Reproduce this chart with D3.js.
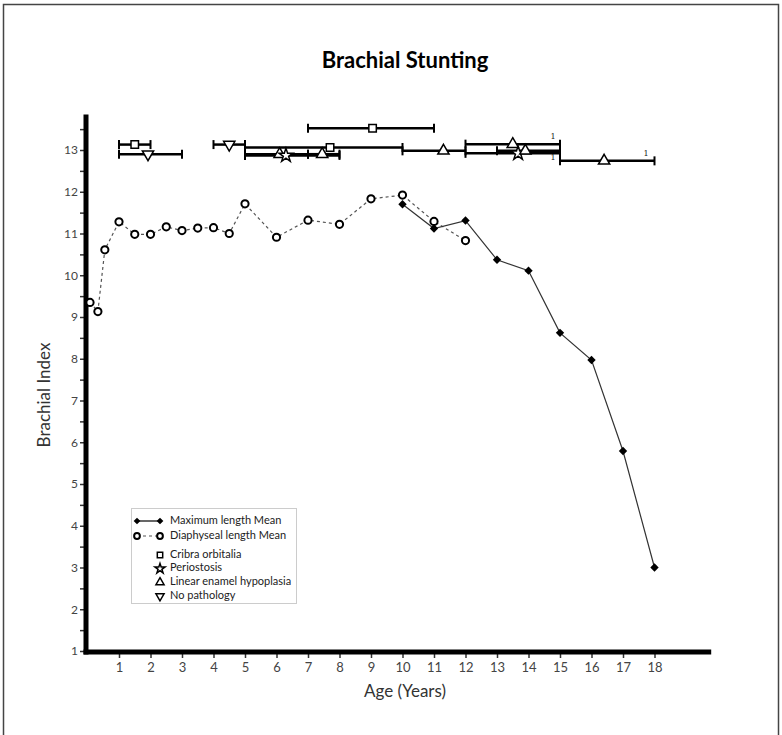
<!DOCTYPE html>
<html>
<head>
<meta charset="utf-8">
<script src="https://cdn.jsdelivr.net/npm/d3@7"></script>
<style>
body { margin: 0; background: #fff; }
svg { font-family: Lato, "Open Sans", sans-serif; }
</style>
</head>
<body>
<svg width="782" height="735"></svg>
<script>
// mean brachial index by age
let maxAge = [10, 11, 12, 13, 14, 15, 16, 17, 18];
let maxMean = [11.7, 11.12, 11.31, 10.37, 10.11, 8.62, 7.97, 5.79, 3.0];

let diaAge = [0.08, 0.33, 0.55, 1, 1.5, 2, 2.5, 3, 3.5, 4, 4.5, 5, 6, 7, 8, 9, 10, 11, 12];
let diaMean = [9.35, 9.13, 10.61, 11.28, 10.98, 10.98, 11.16, 11.07, 11.13, 11.14, 11.0, 11.71, 10.91, 11.32, 11.22, 11.83, 11.92, 11.29, 10.83];

// pathology groups: mean age, age range, brachial index
let pathType = ['cribra', 'cribra', 'cribra', 'none', 'none', 'leh', 'peri', 'leh', 'leh', 'peri', 'leh', 'leh', 'leh'];
let pathAge = [9.05, 1.5, 7.7, 1.92, 4.5, 6.1, 6.3, 7.45, 11.3, 13.67, 13.9, 13.5, 16.4];
let pathLow = [7, 1, 5, 1, 4, 5, 5, 7, 10, 12, 13, 12, 15];
let pathHigh = [11, 2, 10, 3, 5, 7, 8, 8, 12, 15, 15, 15, 18];
let pathIndex = [13.52, 13.13, 13.06, 12.9, 13.13, 12.9, 12.87, 12.9, 12.98, 12.92, 12.98, 13.14, 12.74];

// small "1" notes next to some bars
let noteAge = [14.78, 14.78, 17.73];
let noteIndex = [13.31, 12.81, 12.9];

let xTicks = d3.range(1, 19);
let yTicks = d3.range(1, 14);

let legendLabels = ['Maximum length Mean', 'Diaphyseal length Mean', 'Cribra orbitalia', 'Periostosis', 'Linear enamel hypoplasia', 'No pathology'];
let legendTypes = ['max', 'dia', 'cribra', 'peri', 'leh', 'none'];

let svg = d3.select('svg');

// frame
svg.append('rect')
    .attr('x', 3.5).attr('y', 4.5)
    .attr('width', 775).attr('height', 740)
    .attr('fill', 'none')
    .attr('stroke', '#444')
    .attr('stroke-width', 1.5);

let x = d3.scaleLinear().domain([0, 20]).range([87.5, 717.5]);
let y = d3.scaleLinear().domain([1, 13]).range([651, 150]);

svg.append('text')
    .attr('x', 405).attr('y', 68)
    .attr('text-anchor', 'middle')
    .style('font-size', '22px')
    .style('font-weight', 'bold')
    .text('Brachial Stunting');

// y axis
let yAxis = svg.append('g')
    .attr('transform', 'translate(86,0)')
    .call(d3.axisLeft(y).tickValues(yTicks).tickSize(6).tickPadding(2).tickFormat(d3.format('d')));
yAxis.select('.domain').remove();
yAxis.selectAll('line').attr('stroke', '#333').attr('stroke-width', 1.5);
yAxis.selectAll('text').style('font-size', '12px').style('font-family', 'Lato').attr('fill', '#444');

let yMinor = svg.append('g')
    .attr('transform', 'translate(86,0)')
    .call(d3.axisLeft(y).tickValues(d3.range(1.5, 14, 1)).tickSize(6).tickFormat(''));
yMinor.select('.domain').remove();
yMinor.selectAll('line').attr('stroke', '#333').attr('stroke-width', 1.5);

// x axis
let xAxis = svg.append('g')
    .attr('transform', 'translate(0,652)')
    .call(d3.axisBottom(x).tickValues(xTicks).tickSize(6).tickPadding(5));
xAxis.select('.domain').remove();
xAxis.selectAll('line').attr('stroke', '#333').attr('stroke-width', 1.5);
xAxis.selectAll('text').style('font-size', '13px').style('font-family', 'Lato').attr('fill', '#444');

// thick axis lines
svg.append('line')
    .attr('x1', 86).attr('x2', 86)
    .attr('y1', y(13.85)).attr('y2', 654.5)
    .attr('stroke', '#000').attr('stroke-width', 5);
svg.append('line')
    .attr('x1', 83.5).attr('x2', x(19.8))
    .attr('y1', 652).attr('y2', 652)
    .attr('stroke', '#000').attr('stroke-width', 5);

svg.append('text')
    .attr('transform', 'translate(50,395) rotate(-90)')
    .attr('text-anchor', 'middle')
    .style('font-size', '17px')
    .attr('fill', '#333')
    .text('Brachial  Index');

svg.append('text')
    .attr('x', 405).attr('y', 697)
    .attr('text-anchor', 'middle')
    .style('font-size', '17px')
    .attr('fill', '#333')
    .text('Age (Years)');

// markers
function diamond(s) {
    return 'M0,' + (-s) + 'L' + s + ',0L0,' + s + 'L' + (-s) + ',0Z';
}
let symbolPath = {
    cribra: d3.symbol(d3.symbolSquare, 56)(),
    peri: d3.symbol(d3.symbolStar, 60)(),
    leh: d3.symbol(d3.symbolTriangle, 55)(),
    none: d3.symbol(d3.symbolTriangle, 55)()
};
function drawSymbol(g, type, px, py, k) {
    k = k || 1;
    if (type === 'max') {
        g.append('path').attr('d', diamond(4.2 * k))
            .attr('transform', 'translate(' + px + ',' + py + ')')
            .attr('fill', '#000');
    } else if (type === 'dia') {
        g.append('circle').attr('cx', px).attr('cy', py).attr('r', 3.6 * k)
            .attr('fill', '#fff').attr('stroke', '#000').attr('stroke-width', 2);
    } else {
        let rot = type === 'none' ? ' rotate(180)' : '';
        g.append('path').attr('d', symbolPath[type])
            .attr('transform', 'translate(' + px + ',' + py + ') scale(' + k + ')' + rot)
            .attr('fill', '#fff').attr('stroke', '#000').attr('stroke-width', 1.5 / k);
    }
}

// diaphyseal line
let diaLine = d3.line().x((d, i) => x(diaAge[i])).y(d => y(d));
svg.append('path')
    .attr('d', diaLine(diaMean))
    .attr('fill', 'none')
    .attr('stroke', '#555')
    .attr('stroke-width', 1.2)
    .attr('stroke-dasharray', '3,3');

let maxLine = d3.line().x((d, i) => x(maxAge[i])).y(d => y(d));
svg.append('path')
    .attr('d', maxLine(maxMean))
    .attr('fill', 'none')
    .attr('stroke', '#333')
    .attr('stroke-width', 1.2);

let pts = svg.append('g');
diaMean.forEach((d, i) => drawSymbol(pts, 'dia', x(diaAge[i]), y(d)));
maxMean.forEach((d, i) => drawSymbol(pts, 'max', x(maxAge[i]), y(d)));

// age range bars
let bars = svg.append('g');
pathType.forEach(function(t, i) {
    let py = y(pathIndex[i]);
    bars.append('line')
        .attr('x1', x(pathLow[i])).attr('x2', x(pathHigh[i]))
        .attr('y1', py).attr('y2', py)
        .attr('stroke', '#000').attr('stroke-width', 2.5);
    [pathLow[i], pathHigh[i]].forEach(function(a) {
        bars.append('line')
            .attr('x1', x(a)).attr('x2', x(a))
            .attr('y1', py - 4.5).attr('y2', py + 4.5)
            .attr('stroke', '#000').attr('stroke-width', 2);
    });
});
pathType.forEach(function(t, i) {
    drawSymbol(bars, t, x(pathAge[i]), y(pathIndex[i]));
});

noteAge.forEach(function(a, i) {
    svg.append('text')
        .attr('x', x(a)).attr('y', y(noteIndex[i]))
        .attr('text-anchor', 'middle')
        .attr('dominant-baseline', 'middle')
        .style('font-family', 'DejaVu Serif')
        .style('font-size', '8px')
        .attr('fill', '#222')
        .text('1');
});

// legend
let legend = svg.append('g');
legend.append('rect')
    .attr('x', 131.5).attr('y', 508.5)
    .attr('width', 165).attr('height', 95)
    .attr('fill', '#fff')
    .attr('stroke', '#ccc');

legendLabels.forEach(function(label, i) {
    let ly = i < 2 ? 521 + i * 15 : 555 + (i - 2) * 13.7;
    let t = legendTypes[i];
    if (t === 'max' || t === 'dia') {
        legend.append('line')
            .attr('x1', 137).attr('x2', 160)
            .attr('y1', ly).attr('y2', ly)
            .attr('stroke', t === 'max' ? '#000' : '#555')
            .attr('stroke-width', 1.2)
            .attr('stroke-dasharray', t === 'max' ? null : '3,3');
        drawSymbol(legend, t, 137, ly, 0.8);
        drawSymbol(legend, t, 160, ly, 0.8);
    } else {
        drawSymbol(legend, t, 160, ly, 0.72);
    }
    legend.append('text')
        .attr('x', 170).attr('y', ly)
        .attr('dominant-baseline', 'middle')
        .style('font-size', '11px')
        .attr('fill', '#222')
        .text(label);
});
</script>
</body>
</html>
